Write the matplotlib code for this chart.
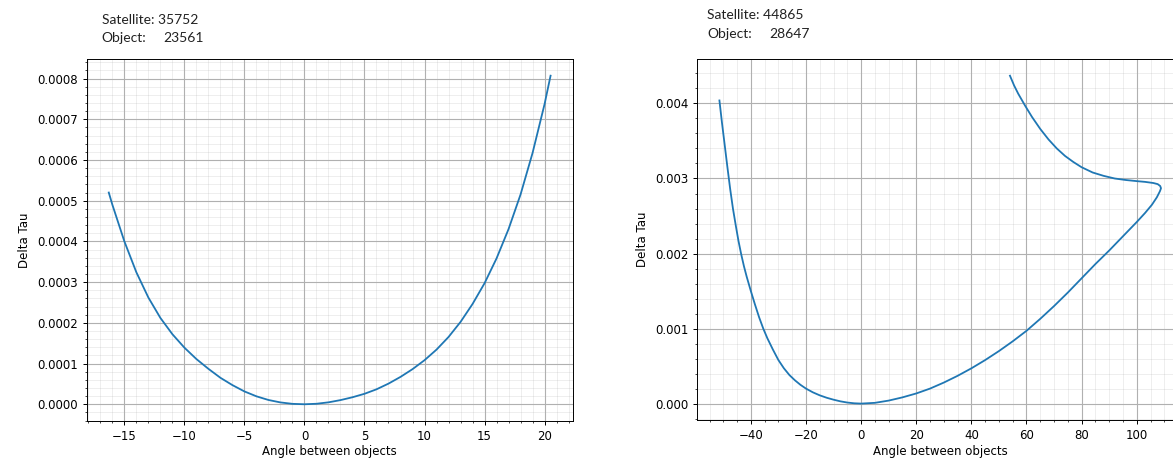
import matplotlib
matplotlib.use("Agg")
import matplotlib.pyplot as plt

# left pair: satellite 35752 / object 23561
sat_left = "35752"
obj_left = "23561"
angle_left = [-16.3, -16.0, -15.0, -14.0, -13.0, -12.0, -11.0, -10.0, -9.0, -8.0,
              -7.0, -6.0, -5.0, -4.0, -3.0, -2.0, -1.0, 0.0, 1.0, 2.0,
              3.0, 4.0, 5.0, 6.0, 7.0, 8.0, 9.0, 10.0, 11.0, 12.0,
              13.0, 14.0, 15.0, 16.0, 17.0, 18.0, 19.0, 20.0, 20.5]
tau_left = [5.20, 4.90, 4.00, 3.24, 2.62, 2.12, 1.72, 1.39, 1.11, 0.87,
            0.65, 0.47, 0.315, 0.195, 0.105, 0.045, 0.01, 0.0, 0.012, 0.047,
            0.102, 0.172, 0.257, 0.367, 0.507, 0.672, 0.862, 1.082, 1.342, 1.652,
            2.022, 2.462, 2.972, 3.582, 4.302, 5.152, 6.172, 7.372, 8.07]
tau_left = [v * 1e-4 for v in tau_left]

# right pair: satellite 44865 / object 28647
sat_right = "44865"
obj_right = "28647"
angle_right = [-51.4, -50.5, -49.5, -48.5, -47.5, -46.5, -45.5, -44.5, -43.5, -42.5,
               -41.5, -40.0, -38.5, -37.0, -35.5, -34.0, -32.0, -30.0, -28.0, -26.0,
               -24.0, -22.0, -20.0, -17.5, -15.0, -12.5, -10.0, -7.5, -5.0, -2.5,
               0.0, 5.0, 10.0, 15.0, 20.0, 25.0, 30.0, 35.0, 40.0, 45.0,
               50.0, 55.0, 60.0, 65.0, 70.0, 75.0, 80.0, 85.0, 90.0, 95.0,
               100.0, 103.0, 105.5, 107.3, 108.4, 108.8, 108.5, 107.6, 106.0, 103.0,
               100.0, 96.0, 92.0, 88.0, 84.0, 80.0, 77.0, 74.0, 71.0, 68.0,
               65.0, 62.0, 59.5, 57.0, 55.5, 54.0]
tau_right = [4.04, 3.75, 3.45, 3.15, 2.86, 2.60, 2.38, 2.17, 1.99, 1.83,
             1.69, 1.50, 1.32, 1.15, 1.00, 0.87, 0.72, 0.58, 0.47, 0.38,
             0.31, 0.25, 0.20, 0.15, 0.11, 0.078, 0.052, 0.030, 0.014, 0.004,
             0.0, 0.010, 0.040, 0.083, 0.135, 0.20, 0.28, 0.37, 0.47, 0.58,
             0.70, 0.83, 0.97, 1.13, 1.30, 1.48, 1.67, 1.86, 2.04, 2.23,
             2.42, 2.54, 2.65, 2.75, 2.83, 2.87, 2.90, 2.925, 2.94, 2.955,
             2.965, 2.98, 3.00, 3.035, 3.08, 3.15, 3.22, 3.30, 3.40, 3.52,
             3.66, 3.82, 3.97, 4.13, 4.24, 4.37]
tau_right = [v * 1e-3 for v in tau_right]

fs = 8.5


def style(ax):
    ax.minorticks_on()
    ax.grid(which="major", color="#b0b0b0", linewidth=0.8)
    ax.grid(which="minor", color="#b0b0b0", alpha=0.22, linewidth=0.7)
    ax.tick_params(which="major", labelsize=fs, length=3, width=0.7)
    ax.tick_params(which="minor", length=1.7, width=0.5)
    for s in ax.spines.values():
        s.set_linewidth(0.7)
    ax.set_xlabel("Angle between objects", fontsize=fs, labelpad=2)
    ax.set_ylabel("Delta Tau", fontsize=fs, labelpad=4)


fig = plt.figure(figsize=(11.73, 4.63), dpi=100)

ax1 = fig.add_axes([0.0739, 0.0914, 0.4143, 0.7806])
ax1.plot(angle_left, tau_left, color="#1f77b4", linewidth=1.3)
style(ax1)

ax2 = fig.add_axes([0.5945, 0.0929, 0.4141, 0.779])
ax2.plot(angle_right, tau_right, color="#1f77b4", linewidth=1.3)
style(ax2)

# header text above each plot
tkw = dict(fontsize=10, family="Lato", color="#222222", va="baseline")
fig.text(0.0867, 0.948, "Satellite: " + sat_left, **tkw)
fig.text(0.0867, 0.910, "Object:", **tkw)
fig.text(0.139, 0.910, obj_left, **tkw)
fig.text(0.603, 0.958, "Satellite: " + sat_right, **tkw)
fig.text(0.603, 0.919, "Object:", **tkw)
fig.text(0.6556, 0.919, obj_right, **tkw)

fig.savefig("out.png", dpi=100)
